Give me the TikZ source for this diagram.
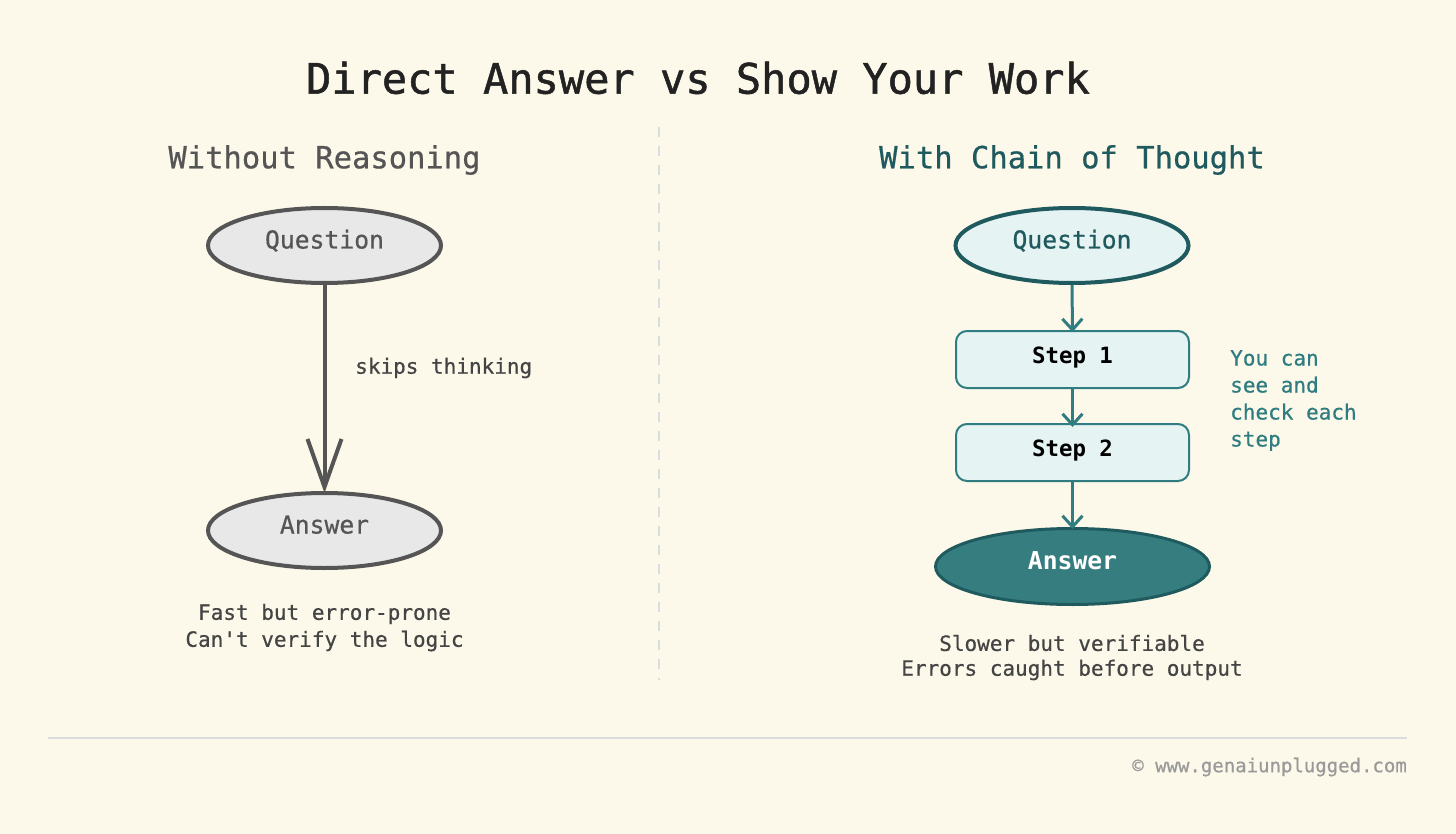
\documentclass[tikz,border=0pt]{standalone}
\usepackage{fontspec}
\setmainfont[FakeBold=0.6]{DejaVu Sans Mono}
\setmonofont{DejaVu Sans Mono}
\newfontfamily\plainfont[FakeBold=0.6]{DejaVu Sans Mono}
\newfontfamily\titlefont[FakeBold=1.2]{DejaVu Sans Mono}
\newfontfamily\stepfont{DejaVu Sans Mono Bold}
\usetikzlibrary{shapes.geometric,arrows.meta}
\definecolor{bg}{HTML}{FDF9EA}
\definecolor{titlec}{HTML}{222222}
\definecolor{greyhead}{HTML}{555555}
\definecolor{greytext}{HTML}{444444}
\definecolor{greyline}{HTML}{555555}
\definecolor{greyfill}{HTML}{E8E8E8}
\definecolor{tealdark}{HTML}{1F5A5E}
\definecolor{tealmid}{HTML}{2F7D80}
\definecolor{tealfill}{HTML}{E6F3F3}
\definecolor{tealans}{HTML}{367D80}
\definecolor{divc}{HTML}{D9DDE0}
\definecolor{footc}{HTML}{999999}
\newcommand{\fs}[1]{\fontsize{#1}{#1}\selectfont}
\tikzset{
  greyell/.style={ellipse, draw=greyline, line width=4pt, fill=greyfill,
    minimum width=233pt, minimum height=75pt, inner sep=0pt,
    text height=18pt, text depth=12pt,
    text=greyhead, font=\fs{24.7}},
  tealell/.style={ellipse, draw=tealdark, line width=4pt, fill=tealfill,
    minimum width=233pt, minimum height=75pt, inner sep=0pt,
    text height=18pt, text depth=12pt,
    text=tealdark, font=\fs{24.7}},
  stepbox/.style={rectangle, rounded corners=11pt, draw=tealmid, line width=2pt,
    fill=tealfill, minimum width=233pt, minimum height=57pt, inner sep=0pt,
    text height=16pt, text depth=8pt,
    text=black, font=\stepfont\fs{22.4}},
  ansbox/.style={ellipse, draw=tealdark, line width=3pt, fill=tealans,
    minimum width=274pt, minimum height=76pt, inner sep=0pt,
    text height=18pt, text depth=12pt,
    text=white, font=\stepfont\fs{24.7}},
  tealarrow/.style={draw=tealmid, line width=3pt,
    -{Straight Barb[length=11pt,width=20pt,line width=3pt]}},
  greyarrow/.style={draw=greyline, line width=4pt,
    -{Straight Barb[length=48pt,width=34pt,line width=4pt]}},
  body/.style={text=greytext, font=\plainfont\fs{21}, align=center},
}
\begin{document}
\begin{tikzpicture}[x=1pt,y=-1pt]
\fill[bg] (0,0) rectangle (1456,834);
\useasboundingbox (0,0) rectangle (1456,834);

\node[text=titlec, font=\titlefont\fs{42}] (title) at (698,78) {Direct Answer vs Show Your Work};

\node[text=greyhead, font=\fs{30.5}] (lhead) at (324.5,160) {Without Reasoning};
\node[text=tealdark, font=\fs{30.5}] (rhead) at (1072,160) {With Chain of Thought};

\coordinate (divtop) at (659,127);
\coordinate (divbot) at (659,680);
\draw[divc, line width=2pt, dash pattern=on 10pt off 9pt] (divtop) -- (divbot);

% left
\node[greyell] (lq) at (324.5,245.5) {Question};
\node[greyell] (la) at (324.5,530.5) {Answer};
\draw[greyarrow] (lq.south) -- ([yshift=-2pt]la.north);
\node[text=greytext, font=\fs{21}, anchor=west, inner sep=0pt] (skip) at (355,368) {skips thinking};
\node[body] (lnote1) at (324.5,614) {Fast but error-prone};
\node[body] (lnote2) at (324.5,641) {Can't verify the logic};

% right
\node[tealell] (rq) at (1072,245.5) {Question};
\node[stepbox] (s1) at (1072.5,359.5) {Step 1};
\node[stepbox] (s2) at (1072.5,452.5) {Step 2};
\node[ansbox] (ra) at (1072.5,566.5) {Answer};
\draw[tealarrow] (rq.south) -- ([yshift=-2pt]s1.north);
\draw[tealarrow] (s1.south) -- ([yshift=-4pt]s2.north);
\draw[tealarrow] (s2.south) -- ([yshift=-2pt]ra.north);
\node[text=tealmid, font=\fs{21}, anchor=north west, align=left, inner sep=0pt] (side) at (1230,350)
  {You can\\[6pt]see and\\[6pt]check each\\[6pt]step};
\node[body] (rnote1) at (1072,643) {Slower but verifiable};
\node[body] (rnote2) at (1072,670) {Errors caught before output};

% footer
\coordinate (fl) at (48,738);
\coordinate (fr) at (1407,738);
\draw[divc, line width=1.5pt] (fl) -- (fr);
\node[text=footc, font=\fs{19}, anchor=east, inner sep=0pt] (foot) at (1407,767) {© www.genaiunplugged.com};
\end{tikzpicture}
\end{document}
